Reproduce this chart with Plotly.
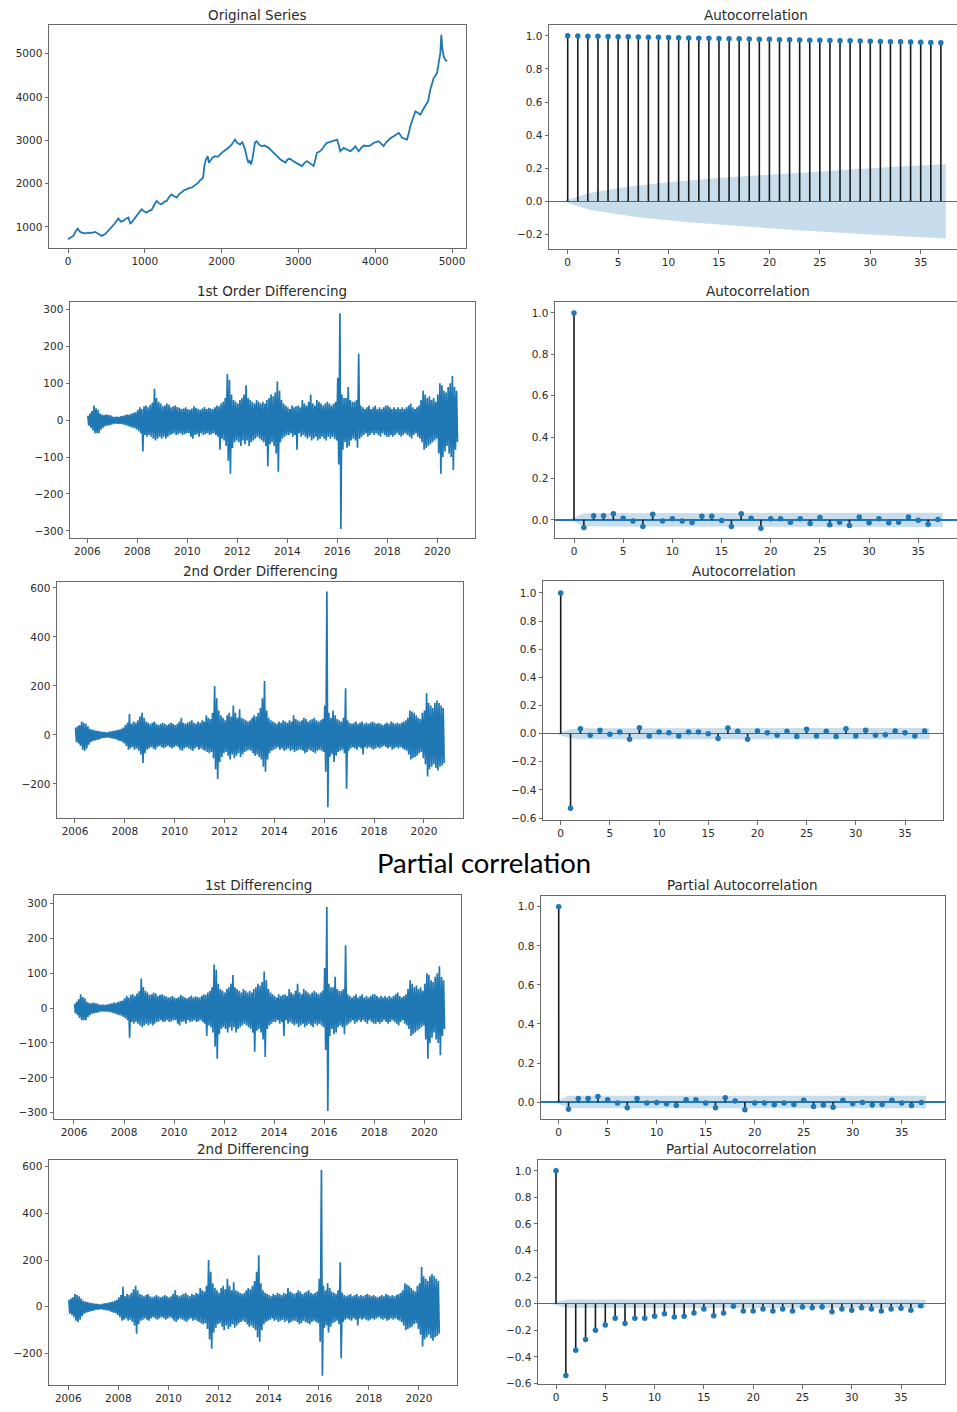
import pandas as pd
import plotly.graph_objects as go

W, H = 957, 1412
C0 = "#1f77b4"

# ---------------- data ----------------
orig_idx = [0, 35, 69, 100, 126, 150, 178, 220, 265, 310,
            352, 395, 438, 480, 525, 570, 612, 655, 690, 720,
            755, 786, 810, 829, 860, 894, 930, 959, 990, 1024,
            1055, 1089, 1120, 1155, 1190, 1220, 1250, 1285, 1320, 1350,
            1385, 1415, 1450, 1480, 1515, 1545, 1580, 1610, 1650, 1697,
            1720, 1740, 1760, 1775, 1795, 1819, 1835, 1849, 1880, 1914,
            1950, 2001, 2040, 2088, 2130, 2174, 2200, 2240, 2270, 2305,
            2330, 2348, 2365, 2383, 2400, 2413, 2435, 2457, 2490, 2522,
            2560, 2613, 2645, 2678, 2720, 2765, 2800, 2830, 2860, 2895,
            2930, 2960, 3000, 3047, 3080, 3112, 3150, 3199, 3220, 3242,
            3275, 3307, 3340, 3372, 3405, 3438, 3470, 3503, 3525, 3546,
            3570, 3590, 3630, 3676, 3710, 3742, 3765, 3785, 3815, 3850,
            3880, 3915, 3950, 3980, 4010, 4045, 4080, 4110, 4140, 4175,
            4205, 4240, 4270, 4306, 4330, 4349, 4380, 4414, 4435, 4457,
            4490, 4523, 4555, 4588, 4620, 4653, 4688, 4718, 4740, 4761,
            4785, 4805, 4826, 4848, 4861, 4875, 4892, 4910, 4935]
orig_val = [716, 760, 793, 900, 962, 900, 869, 850, 869, 860,
            885, 840, 793, 830, 908, 1000, 1084, 1192, 1120, 1138,
            1190, 1215, 1080, 1100, 1180, 1253, 1330, 1407, 1360, 1330,
            1370, 1392, 1500, 1599, 1540, 1522, 1580, 1599, 1700, 1752,
            1700, 1676, 1760, 1806, 1850, 1868, 1900, 1906, 1960, 2021,
            2080, 2098, 2150, 2405, 2550, 2635, 2480, 2520, 2600, 2635,
            2620, 2712, 2760, 2827, 2900, 3019, 2950, 2904, 2960, 2789,
            2600, 2482, 2520, 2443, 2560, 2712, 2950, 2981, 2900, 2866,
            2880, 2827, 2780, 2712, 2640, 2558, 2520, 2481, 2560, 2574,
            2520, 2481, 2450, 2405, 2480, 2520, 2460, 2405, 2550, 2712,
            2740, 2789, 2880, 2942, 2960, 2981, 2990, 3019, 2900, 2750,
            2790, 2827, 2790, 2750, 2800, 2866, 2800, 2750, 2820, 2881,
            2870, 2866, 2900, 2942, 2960, 2981, 2920, 2866, 2950, 3019,
            3060, 3096, 3140, 3172, 3120, 3058, 3040, 3019, 3150, 3326,
            3500, 3672, 3640, 3595, 3700, 3787, 3902, 4171, 4300, 4440,
            4500, 4555, 4785, 5015, 5438, 5100, 4939, 4870, 4823]

# monthly upper / lower extremes (magnitudes of lows), Jan 2006 .. Oct 2020
d1_hi = [12, 18, 25, 40, 32, 28, 18, 15, 14, 16, 14, 13,
         10, 9, 10, 9, 11, 12, 14, 16, 15, 18, 20, 22,
         28, 35, 30, 38, 40, 35, 42, 48, 85, 60, 50, 45,
         38, 40, 45, 42, 35, 38, 40, 36, 34, 30, 32, 35,
         30, 28, 32, 38, 34, 30, 28, 32, 36, 30, 34, 32,
         30, 35, 40, 38, 45, 50, 60, 125, 110, 70, 55, 50,
         45, 55, 60, 70, 95, 60, 55, 50, 45, 55, 50, 45,
         50, 45, 55, 60, 70, 65, 75, 105, 80, 55, 45, 40,
         35, 30, 40, 35, 38, 40, 35, 55, 45, 40, 50, 70,
         45, 40, 55, 50, 45, 40, 45, 50, 45, 40, 45, 50,
         115, 290, 70, 60, 60, 90, 55, 50, 50, 55, 180, 40,
         35, 30, 35, 40, 30, 35, 40, 30, 35, 30, 35, 40,
         40, 35, 30, 35, 30, 35, 30, 35, 30, 35, 40, 45,
         35, 30, 35, 40, 55, 80, 70, 60, 65, 55, 60, 50,
         70, 100, 95, 80, 75, 90, 100, 120, 90, 80]
d1_lo = [15, 20, 28, 35, 35, 35, 25, 20, 16, 15, 14, 12,
         10, 9, 10, 10, 11, 12, 14, 16, 18, 20, 22, 25,
         30, 35, 85, 40, 45, 40, 45, 50, 55, 50, 45, 50,
         45, 50, 45, 40, 38, 35, 40, 38, 35, 40, 38, 35,
         35, 45, 50, 40, 38, 45, 35, 40, 38, 35, 40, 38,
         35, 40, 45, 80, 50, 55, 70, 110, 145, 75, 60, 55,
         60, 70, 55, 65, 55, 70, 60, 55, 50, 45, 50, 55,
         60, 70, 125, 65, 60, 70, 90, 140, 60, 50, 45, 40,
         40, 35, 45, 40, 80, 35, 45, 40, 45, 50, 45, 55,
         50, 45, 55, 50, 45, 50, 55, 45, 50, 45, 50, 55,
         120, 295, 80, 60, 75, 70, 55, 50, 55, 75, 50, 45,
         40, 35, 45, 40, 35, 40, 35, 40, 45, 35, 40, 45,
         45, 40, 45, 40, 35, 40, 45, 40, 35, 40, 45, 50,
         40, 35, 45, 50, 60, 80, 75, 70, 65, 60, 55, 50,
         90, 145, 100, 85, 70, 90, 100, 135, 80, 60]
d2_hi = [30, 35, 40, 55, 50, 45, 35, 25, 22, 20, 18, 16,
         14, 12, 12, 10, 12, 14, 16, 18, 20, 22, 25, 30,
         40, 50, 85, 45, 55, 50, 60, 75, 90, 70, 55, 50,
         45, 50, 55, 45, 40, 45, 50, 45, 40, 45, 50, 45,
         40, 45, 55, 70, 50, 45, 50, 55, 60, 50, 45, 55,
         50, 60, 55, 80, 70, 65, 90, 200, 150, 100, 80, 70,
         60, 80, 90, 75, 120, 90, 70, 105, 70, 65, 60, 55,
         60, 70, 80, 75, 90, 110, 150, 220, 100, 70, 60, 55,
         50, 45, 55, 50, 60, 55, 50, 60, 55, 80, 65, 60,
         55, 60, 70, 65, 55, 60, 65, 70, 60, 55, 60, 65,
         120, 585, 90, 70, 100, 80, 65, 60, 55, 70, 190, 60,
         50, 45, 50, 55, 45, 50, 55, 45, 50, 45, 50, 55,
         50, 45, 50, 45, 40, 45, 50, 45, 55, 50, 45, 50,
         45, 50, 55, 60, 70, 100, 95, 90, 80, 70, 65, 90,
         100, 170, 130, 120, 110, 130, 140, 130, 120, 110]
d2_lo = [30, 35, 45, 60, 65, 55, 40, 30, 25, 22, 20, 18,
         14, 12, 12, 10, 12, 14, 16, 18, 22, 25, 28, 35,
         45, 60, 55, 50, 60, 55, 65, 80, 115, 75, 60, 55,
         50, 55, 60, 50, 45, 50, 55, 50, 45, 50, 55, 50,
         45, 50, 60, 65, 55, 50, 55, 60, 65, 55, 50, 60,
         55, 60, 65, 70, 75, 70, 95, 140, 180, 110, 90, 75,
         70, 85, 100, 80, 95, 85, 75, 90, 80, 70, 65, 60,
         65, 75, 85, 80, 90, 100, 130, 150, 100, 75, 65, 60,
         55, 50, 60, 55, 65, 60, 55, 65, 60, 70, 65, 60,
         60, 65, 75, 70, 60, 65, 70, 75, 65, 60, 65, 70,
         150, 295, 90, 80, 110, 85, 70, 65, 60, 75, 220, 65,
         55, 50, 55, 60, 50, 55, 80, 50, 55, 50, 55, 60,
         55, 50, 55, 50, 45, 50, 55, 50, 60, 55, 50, 55,
         50, 55, 60, 65, 80, 100, 95, 90, 85, 75, 70, 95,
         120, 170, 140, 130, 120, 135, 145, 130, 125, 115]

lags = list(range(38))
acf_orig = [1.000, 0.999, 0.998, 0.997, 0.996, 0.995, 0.994, 0.993, 0.992, 0.991,
            0.990, 0.988, 0.987, 0.986, 0.985, 0.984, 0.983, 0.982, 0.981, 0.980,
            0.979, 0.977, 0.976, 0.975, 0.974, 0.973, 0.972, 0.971, 0.970, 0.969,
            0.968, 0.966, 0.965, 0.964, 0.963, 0.962, 0.960, 0.958]
acf_orig_band = [0.0, 0.028, 0.048, 0.060, 0.071, 0.080, 0.088, 0.096, 0.103, 0.109,
                 0.115, 0.121, 0.126, 0.131, 0.136, 0.141, 0.146, 0.150, 0.155, 0.159,
                 0.163, 0.167, 0.171, 0.175, 0.179, 0.183, 0.186, 0.190, 0.193, 0.197,
                 0.200, 0.204, 0.207, 0.210, 0.214, 0.217, 0.220, 0.224]
acf_d1 = [1.0, -0.037, 0.020, 0.020, 0.030, 0.008, -0.005, -0.032, 0.027, -0.005,
          0.005, -0.005, -0.013, 0.018, 0.018, -0.003, -0.032, 0.030, 0.008, -0.040,
          0.005, 0.005, -0.011, 0.005, -0.018, 0.011, -0.024, -0.011, -0.027, 0.014,
          -0.014, 0.005, -0.014, -0.011, 0.014, -0.002, -0.021, 0.002]
acf_d1_band = [0.0, 0.032, 0.032, 0.032, 0.032, 0.033, 0.033, 0.033, 0.033, 0.033,
               0.033, 0.033, 0.033, 0.033, 0.033, 0.033, 0.033, 0.033, 0.034, 0.034,
               0.034, 0.034, 0.034, 0.034, 0.034, 0.034, 0.034, 0.034, 0.034, 0.034,
               0.034, 0.034, 0.034, 0.034, 0.034, 0.034, 0.034, 0.034]
acf_d2 = [1.0, -0.530, 0.035, -0.012, 0.024, -0.005, 0.012, -0.040, 0.042, -0.017,
          0.012, 0.007, -0.017, 0.012, 0.012, 0.000, -0.035, 0.040, 0.017, -0.040,
          0.019, 0.007, -0.012, 0.017, -0.021, 0.031, -0.017, 0.017, -0.021, 0.035,
          -0.017, 0.024, -0.012, -0.007, 0.019, 0.007, -0.017, 0.019]
acf_d2_band = [0.0, 0.032, 0.039, 0.039, 0.039, 0.039, 0.039, 0.039, 0.039, 0.039,
               0.039, 0.039, 0.039, 0.039, 0.039, 0.039, 0.039, 0.039, 0.040, 0.040,
               0.040, 0.040, 0.040, 0.040, 0.040, 0.040, 0.040, 0.040, 0.040, 0.040,
               0.040, 0.040, 0.040, 0.040, 0.040, 0.040, 0.040, 0.040]
pacf_d1 = [1.0, -0.037, 0.019, 0.019, 0.029, 0.012, -0.005, -0.029, 0.019, -0.005,
           -0.002, -0.008, -0.017, 0.012, 0.012, -0.005, -0.029, 0.022, 0.005, -0.039,
           -0.005, -0.005, -0.014, -0.005, -0.012, 0.009, -0.022, -0.015, -0.026, 0.009,
           -0.008, -0.002, -0.015, -0.012, 0.009, -0.005, -0.017, -0.002]
pacf_d2 = [1.0, -0.540, -0.350, -0.270, -0.200, -0.160, -0.110, -0.150, -0.110, -0.110,
           -0.095, -0.075, -0.100, -0.095, -0.070, -0.040, -0.090, -0.070, -0.020, -0.055,
           -0.055, -0.040, -0.055, -0.040, -0.055, -0.025, -0.030, -0.025, -0.060, -0.040,
           -0.050, -0.030, -0.040, -0.055, -0.040, -0.035, -0.050, -0.015]
pacf_band = [0.0, 0.032, 0.032, 0.032, 0.032, 0.032, 0.032, 0.032, 0.032, 0.032,
             0.032, 0.032, 0.032, 0.032, 0.032, 0.032, 0.032, 0.032, 0.032, 0.032,
             0.032, 0.032, 0.032, 0.032, 0.032, 0.032, 0.032, 0.032, 0.032, 0.032,
             0.032, 0.032, 0.032, 0.032, 0.032, 0.032, 0.032, 0.032]

year_ticks = [2006, 2008, 2010, 2012, 2014, 2016, 2018, 2020]
index_ticks = [0, 1000, 2000, 3000, 4000, 5000]
orig_yticks = [1000, 2000, 3000, 4000, 5000]
lag_ticks = [0, 5, 10, 15, 20, 25, 30, 35]
d1_yticks = [-300, -200, -100, 0, 100, 200, 300]
d2_yticks = [-200, 0, 200, 400, 600]
acf_yticks_a = [-0.2, 0.0, 0.2, 0.4, 0.6, 0.8, 1.0]
acf_yticks_b = [0.0, 0.2, 0.4, 0.6, 0.8, 1.0]
acf_yticks_c = [-0.6, -0.4, -0.2, 0.0, 0.2, 0.4, 0.6, 0.8, 1.0]

months = pd.date_range("2006-01-01", periods=len(d1_hi), freq="MS")


# ---------------- helpers ----------------
def lin(p0, v0, p1, v1, p):
    return v0 + (p - p0) * (v1 - v0) / (p1 - p0)


def fy_to_date(fy):
    y = int(fy // 1)
    start = pd.Timestamp(year=y, month=1, day=1)
    end = pd.Timestamp(year=y + 1, month=1, day=1)
    return (start + (end - start) * (fy - y)).strftime("%Y-%m-%d %H:%M:%S")


def zigzag(hi, lo):
    xs, ys = [], []
    for m, h, l in zip(months, hi, lo):
        xs.extend([m + pd.Timedelta(days=8), m + pd.Timedelta(days=22)])
        ys.extend([h, -l])
    return xs, ys


fig = go.Figure()

TXT = "#2a2a2a"
FRAME = "#6a6a6a"
tickfont = dict(family="DejaVu Sans", size=10.5, color=TXT)

panels = [
    dict(kind="num", dom=(49, 466, 25, 249), xcal=(68, 0, 452, 5000), ycal=(54, 5000, 227.7, 1000),
         title="Original Series", tx=257, ty=15, yt=orig_yticks, fmt=None),
    dict(kind="lag", dom=(549, 957, 25, 250), xcal=(567.7, 0, 920.7, 35), ycal=(36, 1.0, 235.3, -0.2),
         title="Autocorrelation", tx=756, ty=15, yt=acf_yticks_a, fmt=".1f", open_right=True,
         vals=acf_orig, band=acf_orig_band),
    dict(kind="date", dom=(70, 475, 303, 540), xcal=(87.3, 2006, 437.3, 2020), ycal=(310.7, 300, 532.7, -300),
         title="1st Order Differencing", tx=272, ty=292, yt=d1_yticks, fmt=None, series=(d1_hi, d1_lo)),
    dict(kind="lag", dom=(555, 957, 303, 540), xcal=(574, 0, 918.3, 35), ycal=(314, 1.0, 521.7, 0.0),
         title="Autocorrelation", tx=758, ty=292, yt=acf_yticks_b, fmt=".1f", open_right=True,
         vals=acf_d1, band=acf_d1_band),
    dict(kind="date", dom=(57, 463, 584, 821), xcal=(75, 2006, 424, 2020), ycal=(590, 600, 786.7, -200),
         title="2nd Order Differencing", tx=260, ty=573, yt=d2_yticks, fmt=None, series=(d2_hi, d2_lo)),
    dict(kind="lag", dom=(543, 943, 583, 823), xcal=(560.7, 0, 905, 35), ycal=(595, 1.0, 821, -0.6),
         title="Autocorrelation", tx=744, ty=573, yt=acf_yticks_c, fmt=".1f",
         vals=acf_d2, band=acf_d2_band),
    dict(kind="date", dom=(54, 461, 898, 1123), xcal=(74, 2006, 424.3, 2020), ycal=(906.7, 300, 1116.7, -300),
         title="1st Differencing", tx=258, ty=888, yt=d1_yticks, fmt=None, series=(d1_hi, d1_lo)),
    dict(kind="lag", dom=(541, 945, 899, 1123), xcal=(558.7, 0, 901.7, 35), ycal=(910, 1.0, 1106, 0.0),
         title="Partial Autocorrelation", tx=742, ty=888, yt=acf_yticks_b, fmt=".1f",
         vals=pacf_d1, band=pacf_band),
    dict(kind="date", dom=(49, 457, 1164, 1390), xcal=(68.3, 2006, 419, 2020), ycal=(1170.7, 600, 1358.3, -200),
         title="2nd Differencing", tx=253, ty=1153, yt=d2_yticks, fmt=None, series=(d2_hi, d2_lo)),
    dict(kind="lag", dom=(538, 945, 1164, 1389), xcal=(556, 0, 901, 35), ycal=(1175, 1.0, 1388.3, -0.6),
         title="Partial Autocorrelation", tx=741, ty=1153, yt=acf_yticks_c, fmt=".1f",
         vals=pacf_d2, band=pacf_band),
]

layout_axes = {}
annotations = []
for i, p in enumerate(panels, start=1):
    xa = "x" if i == 1 else f"x{i}"
    ya = "y" if i == 1 else f"y{i}"
    xk = "xaxis" if i == 1 else f"xaxis{i}"
    yk = "yaxis" if i == 1 else f"yaxis{i}"
    l, r, t, b = p["dom"]
    xr = [lin(*p["xcal"], l), lin(*p["xcal"], r)]
    yr = [lin(*p["ycal"], b), lin(*p["ycal"], t)]

    xaxis = dict(domain=[l / W, min(r / W, 1.0)], anchor=ya, showline=True, linecolor=FRAME, linewidth=1,
                 mirror=True, ticks="outside", ticklen=3.5, tickwidth=1, tickcolor=FRAME,
                 showgrid=False, zeroline=False, tickfont=tickfont)
    yaxis = dict(domain=[1 - b / H, 1 - t / H], anchor=xa, showline=True, linecolor=FRAME, linewidth=1,
                 mirror=not p.get("open_right", False), ticks="outside", ticklen=3.5, tickwidth=1,
                 tickcolor=FRAME, showgrid=False, zeroline=False, tickfont=tickfont,
                 range=yr, tickvals=p["yt"])
    if p["fmt"]:
        yaxis["tickformat"] = p["fmt"]

    if p["kind"] == "num":
        xaxis.update(range=xr, tickvals=index_ticks)
        fig.add_trace(go.Scatter(x=orig_idx, y=orig_val, mode="lines",
                                 line=dict(color=C0, width=1.8), xaxis=xa, yaxis=ya))
    elif p["kind"] == "date":
        xaxis.update(type="date", range=[fy_to_date(xr[0]), fy_to_date(xr[1])],
                     tickvals=[f"{y}-01-01" for y in year_ticks],
                     ticktext=[str(y) for y in year_ticks])
        zx, zy = zigzag(*p["series"])
        fig.add_trace(go.Scatter(x=zx, y=zy, mode="lines",
                                 line=dict(color=C0, width=1.7), xaxis=xa, yaxis=ya))
    else:
        xaxis.update(range=xr, tickvals=lag_ticks)
        yaxis.update(zeroline=True, zerolinecolor=C0, zerolinewidth=1.5)
        vals, band = p["vals"], p["band"]
        bx = [lags[0] - 0.5] + lags[1:-1] + [lags[-1] + 0.5]
        up = list(band)
        lo = [-v for v in band]
        fig.add_trace(go.Scatter(x=bx + bx[::-1], y=up + lo[::-1], mode="lines", fill="toself",
                                 fillcolor="rgba(31,119,180,0.25)", line=dict(width=0),
                                 xaxis=xa, yaxis=ya, hoverinfo="skip"))
        sx, sy = [], []
        for lg, v in zip(lags, vals):
            sx += [lg, lg, None]
            sy += [0, v, None]
        fig.add_trace(go.Scatter(x=sx, y=sy, mode="lines", line=dict(color="#1a1a1a", width=1.6),
                                 xaxis=xa, yaxis=ya))
        fig.add_trace(go.Scatter(x=lags, y=vals, mode="markers",
                                 marker=dict(color=C0, size=5.5, line=dict(width=0)),
                                 xaxis=xa, yaxis=ya))

    layout_axes[xk] = xaxis
    layout_axes[yk] = yaxis
    annotations.append(dict(text=p["title"], x=p["tx"] / W, y=1 - p["ty"] / H, xref="paper", yref="paper",
                            xanchor="center", yanchor="middle", showarrow=False,
                            font=dict(family="DejaVu Sans", size=13.5, color=TXT)))

annotations.append(dict(text="Partial correlation", x=484 / W, y=1 - 866 / H, xref="paper", yref="paper",
                        xanchor="center", yanchor="middle", showarrow=False,
                        font=dict(family="Lato", size=27.5, color="#000000")))

fig.update_layout(width=W, height=H, margin=dict(l=0, r=0, t=0, b=0),
                  paper_bgcolor="white", plot_bgcolor="white", showlegend=False,
                  annotations=annotations, **layout_axes)

fig.write_html("out.html", config={"displayModeBar": False, "staticPlot": True},
               post_script="document.body.style.margin='0';document.body.style.padding='0';")
